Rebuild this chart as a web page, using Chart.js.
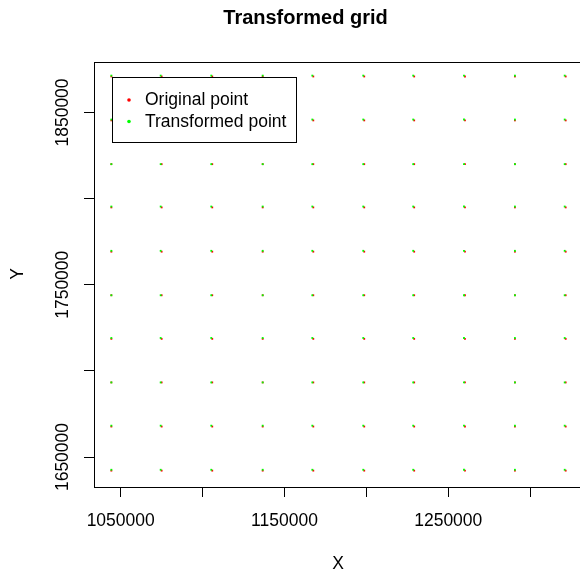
<!DOCTYPE html>
<html>
<head>
<meta charset="utf-8">
<script src="https://cdn.jsdelivr.net/npm/chart.js@4/dist/chart.umd.min.js"></script>
<style>
  html, body { margin: 0; padding: 0; background: #fff; overflow: hidden; }
  #wrap { width: 600px; height: 573px; }
</style>
</head>
<body>
<div id="wrap"><canvas id="grid" width="600" height="573"></canvas></div>
<script>
        // Grid positions
        const origX = [1044300, 1075000, 1105900, 1136700, 1167600, 1198700, 1229200, 1260200, 1290700, 1321700];
        const origY = [1870900, 1845400, 1820000, 1794900, 1769200, 1743900, 1718600, 1693300, 1667700, 1642100];
        const transX = [1044300, 1074400, 1105300, 1136700, 1167000, 1198100, 1228600, 1259600, 1290700, 1321100];
        const transY = [1871400, 1845900, 1820000, 1795400, 1769700, 1743900, 1719100, 1693300, 1668200, 1642600];

        // tick marks, and the labels R kept
        const xTickMarks = [1050000, 1100000, 1150000, 1200000, 1250000, 1300000];
        const yTickMarks = [1650000, 1700000, 1750000, 1800000, 1850000];
        const xTickLabels = [1050000, 1150000, 1250000];
        const yTickLabels = [1650000, 1750000, 1850000];
        const seriesNames = ['Original point', 'Transformed point'];

        const FONT = '"Liberation Sans", Arial, sans-serif';

        function gridPoints(xs, ys) {
            const pts = [];
            xs.forEach(x => ys.forEach(y => pts.push({ x, y })));
            return pts;
        }

        // R style box, tick labels, titles and legend
        const rBase = {
            id: 'rBase',
            afterDraw(chart) {
                const { ctx, chartArea: a, scales: { x, y } } = chart;
                ctx.save();
                ctx.strokeStyle = '#000';
                ctx.lineWidth = 1;
                ctx.strokeRect(Math.round(a.left) + 0.5, Math.round(a.top) + 0.5,
                    Math.round(a.right - a.left), Math.round(a.bottom - a.top));

                ctx.fillStyle = '#000';
                ctx.font = '17.5px ' + FONT;
                ctx.textAlign = 'center';
                ctx.textBaseline = 'middle';
                xTickLabels.forEach(v => ctx.fillText(String(v), x.getPixelForValue(v), 521));
                yTickLabels.forEach(v => {
                    ctx.save();
                    ctx.translate(63, y.getPixelForValue(v));
                    ctx.rotate(-Math.PI / 2);
                    ctx.fillText(String(v), 0, 0);
                    ctx.restore();
                });

                // axis titles
                ctx.fillText('X', 338, 564);
                ctx.save();
                ctx.translate(18, 274);
                ctx.rotate(-Math.PI / 2);
                ctx.fillText('Y', 0, 0);
                ctx.restore();

                // main title
                ctx.font = 'bold 20px ' + FONT;
                ctx.fillText('Transformed grid', 305.5, 18);

                // legend
                ctx.fillStyle = '#fff';
                ctx.fillRect(112.5, 77.5, 184, 65);
                ctx.strokeRect(112.5, 77.5, 184, 65);
                ctx.font = '17.5px ' + FONT;
                ctx.textAlign = 'left';
                chart.data.datasets.forEach((ds, i) => {
                    const ly = 100 + i * 21.5;
                    ctx.fillStyle = ds.backgroundColor;
                    ctx.beginPath();
                    ctx.arc(129, ly, 1.8, 0, Math.PI * 2);
                    ctx.fill();
                    ctx.fillStyle = '#000';
                    ctx.fillText(ds.label, 145, ly + 0.5);
                });
                ctx.restore();
            }
        };

        const axisGrid = {
            display: true,
            drawOnChartArea: false,
            drawTicks: true,
            tickLength: 10,
            color: '#000',
            lineWidth: 1
        };

        new Chart(document.getElementById('grid').getContext('2d'), {
            type: 'scatter',
            data: {
                datasets: [{
                    label: seriesNames[0],
                    data: gridPoints(origX, origY),
                    backgroundColor: '#ff0000',
                    borderColor: '#ff0000',
                    pointStyle: 'rect',
                    pointRadius: 1.3,
                    borderWidth: 0,
                    order: 1
                }, {
                    label: seriesNames[1],
                    data: gridPoints(transX, transY),
                    backgroundColor: '#00ff00',
                    borderColor: '#00ff00',
                    pointStyle: 'rect',
                    pointRadius: 1.3,
                    borderWidth: 0,
                    order: 0
                }]
            },
            options: {
                responsive: false,
                animation: false,
                layout: { padding: { top: 62, right: 15, left: 0, bottom: 0 } },
                scales: {
                    x: {
                        type: 'linear',
                        min: 1033700,
                        max: 1333500,
                        grid: axisGrid,
                        border: { display: false },
                        ticks: { display: false },
                        afterBuildTicks: s => { s.ticks = xTickMarks.map(v => ({ value: v })); },
                        afterFit: s => { s.height = 86; }
                    },
                    y: {
                        type: 'linear',
                        min: 1632600,
                        max: 1879300,
                        grid: axisGrid,
                        border: { display: false },
                        ticks: { display: false },
                        afterBuildTicks: s => { s.ticks = yTickMarks.map(v => ({ value: v })); },
                        afterFit: s => { s.width = 94; }
                    }
                },
                plugins: {
                    legend: { display: false },
                    tooltip: { enabled: false }
                }
            },
            plugins: [rBase]
        });
</script>
</body>
</html>
